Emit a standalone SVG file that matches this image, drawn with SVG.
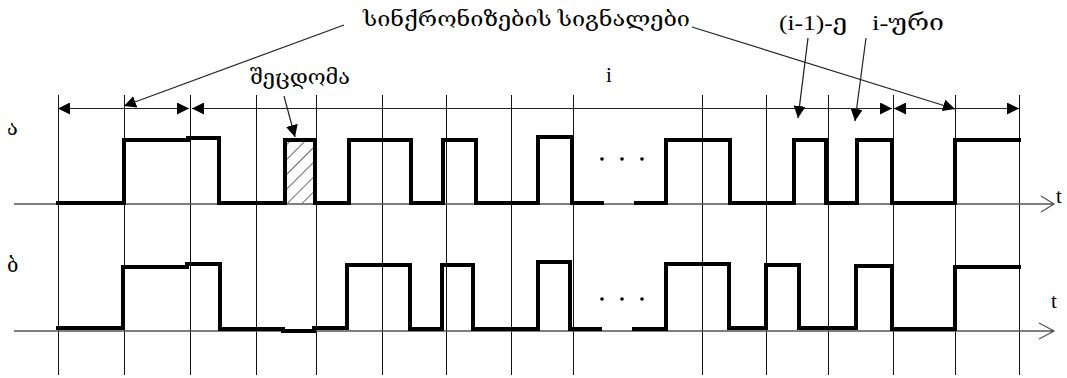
<svg xmlns="http://www.w3.org/2000/svg" width="1067" height="378" viewBox="0 0 1067 378">
<defs>
<style>
.grid{stroke:#111;stroke-width:1;fill:none}
.axis{stroke:#555;stroke-width:1.3;fill:none}
.wave{stroke:#000;stroke-width:4;fill:none;stroke-linejoin:miter;stroke-linecap:square}
.lead{stroke:#222;stroke-width:1.2;fill:none}
.txt{font-family:"Liberation Serif","DejaVu Serif","DejaVu Sans",serif;fill:#000}
</style>
<marker id="ah" viewBox="0 0 12 12" refX="12" refY="6" markerWidth="12" markerHeight="12" markerUnits="userSpaceOnUse" orient="auto-start-reverse">
<path d="M0,0 L12,6 L0,12 z" fill="#000"/>
</marker>
<pattern id="hatch" width="10.5" height="10.5" patternUnits="userSpaceOnUse" patternTransform="rotate(45)">
<line x1="0" y1="0" x2="0" y2="10.5" stroke="#111" stroke-width="1.2"/>
</pattern>
</defs>
<rect width="1067" height="378" fill="#fff"/>

<g id="grid">
<path class="grid" d="M58.5,95V375M124.5,95V375M190.5,95V375M256.5,95V375M316.5,95V375M382.5,95V375M446.5,95V375M511.5,95V375M573.5,95V375M702.5,95V375M766.5,95V375M828.5,95V375M893.5,95V375M955.5,95V375M1019.5,95V375"/>
</g>

<g id="axes">
<path class="axis" d="M14,204H1054M1041,196L1054,204L1041,212"/>
<path class="axis" d="M14,331H1054M1039,323L1054,331L1039,339"/>
<text class="txt" x="1056" y="203" font-size="21">t</text>
<text class="txt" x="1051" y="308" font-size="21">t</text>
</g>

<g id="labels">
<text class="txt" x="7" y="135" font-size="20">ა</text>
<text class="txt" x="7" y="272" font-size="20">ბ</text>
</g>

<g id="error-box">
<rect x="285" y="140" width="30" height="63" fill="url(#hatch)"/>
</g>

<g id="wave-a">
<path class="wave" d="M58,203H124V140H188V138H219V203H285V140H315V203H349V140H411V203H443V140H476V203H538V137H572V203H602"/>
<path class="wave" d="M636,203H666V140H730V203H794V140H826V203H857V140H892V203H955V140H1019"/>
<circle cx="602" cy="159" r="1.8"/>
<circle cx="622" cy="159" r="1.8"/>
<circle cx="642" cy="159" r="1.8"/>
</g>

<g id="wave-b">
<path class="wave" d="M58,328H123V267H187V264H220V329H283V331H314V328H347V265H410V329H442V265H473V329H538V262H570V329H600"/>
<path class="wave" d="M634,329H666V264H729V328H766V265H799V328H856V266H892V329H955V267H1019"/>
<circle cx="602" cy="299" r="1.8"/>
<circle cx="622" cy="299" r="1.8"/>
<circle cx="642" cy="299" r="1.8"/>
</g>

<g id="connectors">
<line class="lead" x1="58" y1="108.5" x2="189" y2="108.5" marker-start="url(#ah)" marker-end="url(#ah)"/>
<line class="lead" x1="192" y1="108.5" x2="892" y2="108.5" marker-start="url(#ah)" marker-end="url(#ah)"/>
<line class="lead" x1="894" y1="108.5" x2="1019" y2="108.5" marker-start="url(#ah)" marker-end="url(#ah)"/>
<line class="lead" x1="344" y1="25" x2="124" y2="106" marker-end="url(#ah)"/>
<line class="lead" x1="692" y1="27" x2="955" y2="109" marker-end="url(#ah)"/>
<line class="lead" x1="284" y1="96" x2="295" y2="137" marker-end="url(#ah)"/>
<line class="lead" x1="808" y1="38" x2="798" y2="118" marker-end="url(#ah)"/>
<line class="lead" x1="866" y1="38" x2="855" y2="121" marker-end="url(#ah)"/>
</g>

<g id="annotations">
<text class="txt" x="363" y="26" font-size="20" textLength="327" lengthAdjust="spacingAndGlyphs">სინქრონიზების სიგნალები</text>
<text class="txt" x="250" y="84" font-size="20" textLength="100" lengthAdjust="spacingAndGlyphs">შეცდომა</text>
<text class="txt" x="606" y="82" font-size="21">i</text>
<text class="txt" x="779" y="30" font-size="22" textLength="68" lengthAdjust="spacingAndGlyphs">(i-1)-ე</text>
<text class="txt" x="872" y="30" font-size="22" textLength="72" lengthAdjust="spacingAndGlyphs">i-ური</text>
</g>
</svg>
